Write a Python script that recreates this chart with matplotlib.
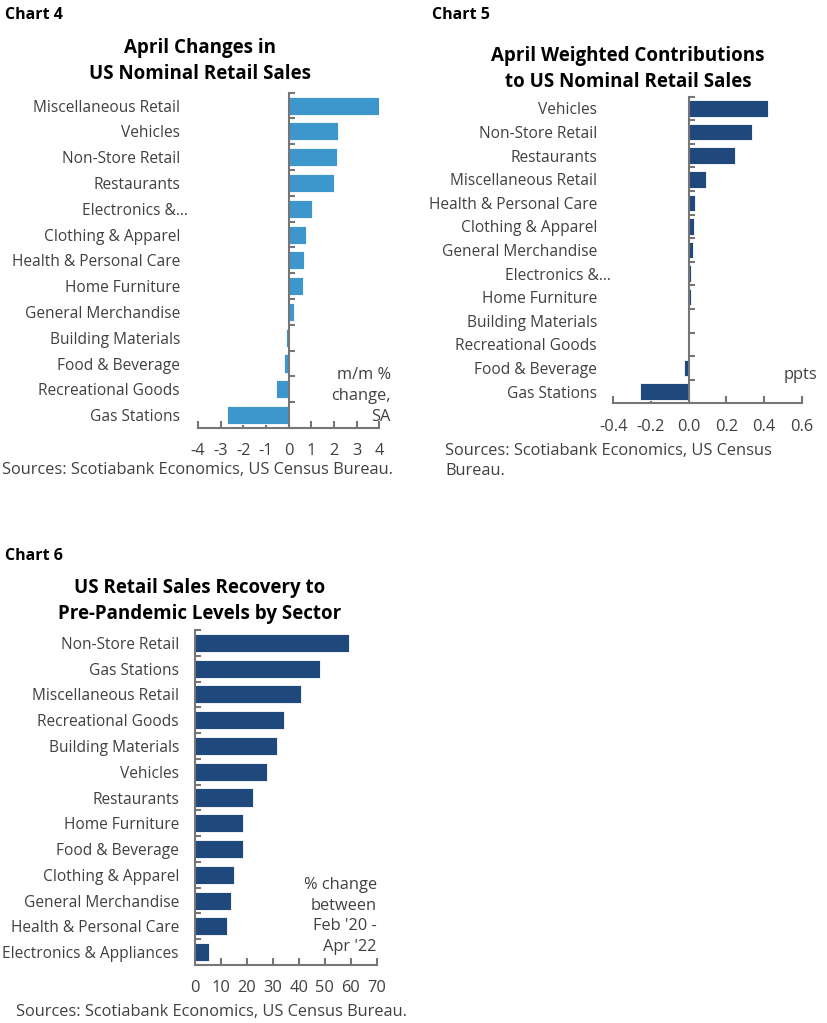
import matplotlib.pyplot as plt
import matplotlib.transforms as mtrans

# ---- data ----
c4_labels = ['Miscellaneous Retail', 'Vehicles', 'Non-Store Retail', 'Restaurants',
             'Electronics &...', 'Clothing & Apparel', 'Health & Personal Care',
             'Home Furniture', 'General Merchandise', 'Building Materials',
             'Food & Beverage', 'Recreational Goods', 'Gas Stations']
c4_values = [4.0, 2.18, 2.14, 2.0, 1.04, 0.75, 0.69, 0.64, 0.22, -0.1, -0.22, -0.55, -2.72]
c4_ticks = [-4, -3, -2, -1, 0, 1, 2, 3, 4]

c5_labels = ['Vehicles', 'Non-Store Retail', 'Restaurants', 'Miscellaneous Retail',
             'Health & Personal Care', 'Clothing & Apparel', 'General Merchandise',
             'Electronics &...', 'Home Furniture', 'Building Materials',
             'Recreational Goods', 'Food & Beverage', 'Gas Stations']
c5_values = [0.42, 0.334, 0.246, 0.09, 0.035, 0.03, 0.025, 0.01, 0.01, -0.003, -0.003, -0.025, -0.26]
c5_ticks = [-0.4, -0.2, 0.0, 0.2, 0.4, 0.6]

c6_labels = ['Non-Store Retail', 'Gas Stations', 'Miscellaneous Retail', 'Recreational Goods',
             'Building Materials', 'Vehicles', 'Restaurants', 'Home Furniture',
             'Food & Beverage', 'Clothing & Apparel', 'General Merchandise',
             'Health & Personal Care', 'Electronics & Appliances']
c6_values = [59.5, 48.2, 40.8, 34.3, 31.5, 27.6, 22.5, 18.6, 18.6, 15.2, 13.9, 12.5, 5.3]
c6_ticks = [0, 10, 20, 30, 40, 50, 60, 70]

W, H = 828, 1023
plt.rcParams['font.family'] = ['Open Sans', 'DejaVu Sans']
fig = plt.figure(figsize=(W / 100, H / 100), dpi=100)

AX_COL = '#767676'
TXT = '#404040'
LIGHT = '#3d96cc'
DARK = '#1f497d'
FS = 11.8   # notes, sources, x ticks
YFS = 11.2  # category labels


def fx(x):
    return x / W


def fy(y):
    return 1 - y / H


def draw_bars(rect_px, labels, values, ticks, color, fmt, label_x):
    l, t, r, b = rect_px
    ax = fig.add_axes([fx(l), fy(b), fx(r - l), (b - t) / H])
    n = len(labels)
    ypos = list(range(n))
    ax.barh(ypos, values, height=0.7, color=color, edgecolor='white', linewidth=0.6, zorder=2)
    ax.set_ylim(n - 0.5, -0.5)
    ax.set_xlim(ticks[0], ticks[-1])
    ax.set_yticks(ypos)
    ax.set_yticks([i - 0.5 for i in range(n + 1)], minor=True)
    ax.tick_params(axis='y', which='major', length=0, pad=0, labelsize=YFS, labelcolor=TXT)
    ax.tick_params(axis='y', which='minor', direction='in', length=4, width=1.5, color=AX_COL)
    ax.set_yticklabels(labels)
    ax.set_xticks(ticks)
    ax.set_xticklabels([fmt(v) for v in ticks])
    ax.tick_params(axis='x', direction='in', length=5, width=1.5, color=AX_COL, pad=11,
                   labelsize=FS, labelcolor=TXT)
    for s in ['top', 'right']:
        ax.spines[s].set_visible(False)
    ax.spines['bottom'].set_color(AX_COL)
    ax.spines['bottom'].set_linewidth(1.5)
    # y spine at zero
    ax.spines['left'].set_position(('data', 0))
    ax.spines['left'].set_color(AX_COL)
    ax.spines['left'].set_linewidth(1.5)
    # labels right-aligned at a fixed pixel x
    for lab in ax.get_yticklabels():
        lab.set_transform(mtrans.blended_transform_factory(fig.transFigure, ax.transData))
        lab.set_x(fx(label_x))
        lab.set_horizontalalignment('right')
        lab.set_fontsize(YFS)
    return ax


# chart 4
ax4 = draw_bars((198, 92.7, 379.3, 428), c4_labels, c4_values, c4_ticks, LIGHT,
                lambda v: f'{v:d}', 180)
# chart 5
ax5 = draw_bars((613.3, 96.7, 801.7, 403.3), c5_labels, c5_values, c5_ticks, DARK,
                lambda v: f'{v:.1f}', 597)
# chart 6
ax6 = draw_bars((195, 630, 376.7, 965), c6_labels, c6_values, c6_ticks, DARK,
                lambda v: f'{v:d}', 179)

# truncated labels stick out past the others
ax4.get_yticklabels()[4].set_horizontalalignment('left')
ax4.get_yticklabels()[4].set_x(fx(82))
ax5.get_yticklabels()[7].set_horizontalalignment('left')
ax5.get_yticklabels()[7].set_x(fx(505))

# chart headers
for x, y, s in [(5, 15, 'Chart 4'), (432, 15, 'Chart 5'), (5, 556, 'Chart 6')]:
    fig.text(fx(x), fy(y), s, fontsize=11.5, fontweight='bold',
             ha='left', va='center', color='black')

# titles
tkw = dict(fontsize=13.5, fontweight='bold', ha='center', va='center', linespacing=1.45)
fig.text(fx(200), fy(61), 'April Changes in\nUS Nominal Retail Sales', **tkw)
fig.text(fx(628), fy(69), 'April Weighted Contributions\nto US Nominal Retail Sales', **tkw)
fig.text(fx(200), fy(601), 'US Retail Sales Recovery to\nPre-Pandemic Levels by Sector', **tkw)

# unit notes
fig.text(fx(391), fy(396), 'm/m %\nchange,\nSA', fontsize=FS, color=TXT, ha='right', va='center',
         linespacing=1.4)
fig.text(fx(817), fy(375), 'ppts', fontsize=FS, color=TXT, ha='right', va='center')
fig.text(fx(377), fy(916), "% change\nbetween\nFeb '20 -\nApr '22", fontsize=FS, color=TXT,
         ha='right', va='center', linespacing=1.4)

# sources
fig.text(fx(2), fy(470), 'Sources: Scotiabank Economics, US Census Bureau.', fontsize=FS,
         color=TXT, ha='left', va='center')
fig.text(fx(445), fy(461), 'Sources: Scotiabank Economics, US Census\nBureau.', fontsize=FS,
         color=TXT, ha='left', va='center', linespacing=1.35)
fig.text(fx(16), fy(1012), 'Sources: Scotiabank Economics, US Census Bureau.', fontsize=FS,
         color=TXT, ha='left', va='center')

fig.savefig('out.png', dpi=100)
